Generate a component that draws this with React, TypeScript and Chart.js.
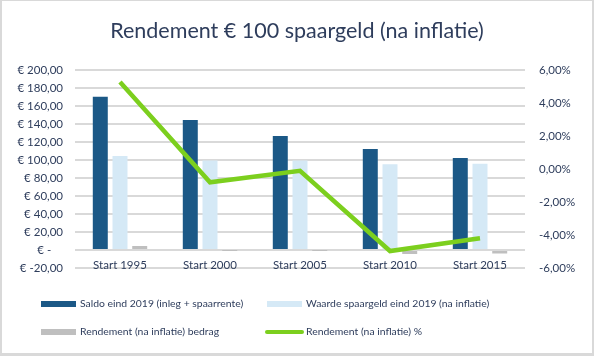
import React, { useEffect, useRef } from "react";
import { Chart, registerables } from "chart.js";

Chart.register(...registerables);

const categories = ["Start 1995", "Start 2000", "Start 2005", "Start 2010", "Start 2015"];
const saldo = [170.6, 144.7, 126.9, 112.4, 102.4];
const waarde = [104.6, 99.6, 99.6, 95.5, 96.0];
const rendementBedrag = [4.6, -0.1, -0.1, -4.5, -4.0];
const rendementPct = [5.29, -0.8, -0.1, -4.97, -4.2];

const seriesNames = [
  "Saldo eind 2019 (inleg + spaarrente)",
  "Waarde spaargeld eind 2019 (na inflatie)",
  "Rendement (na inflatie) bedrag",
  "Rendement (na inflatie) %",
];
const titleText = "Rendement € 100 spaargeld (na inflatie)";

const FONT = "Lato";
const TEXT = "#2e3d5c";
const DARK = "#1b5886";
const LIGHT = "#d5e9f6";
const GRAY = "#bfbfbf";
const GREEN = "#7ccf1e";

const frameAndLegend = {
  id: "frameAndLegend",
  beforeDraw(chart: any) {
    const ctx = chart.ctx;
    ctx.save();
    ctx.fillStyle = "#ffffff";
    ctx.fillRect(0, 0, chart.width, chart.height);
    ctx.restore();
  },
  afterDraw(chart: any) {
    const ctx = chart.ctx;
    const W = chart.width;
    const H = chart.height;
    ctx.save();
    ctx.fillStyle = "#d9d9d9";
    ctx.fillRect(0, 0, 2, H);
    ctx.fillRect(0, 0, W, 1);
    ctx.fillRect(W - 2, 0, 2, H);
    ctx.fillRect(0, H - 3, W, 3);

    // category labels (drawn over the bottom gridline, as in the original)
    const xs = chart.scales.x;
    ctx.font = `11.5px ${FONT}`;
    ctx.textAlign = "center";
    ctx.textBaseline = "middle";
    ctx.fillStyle = TEXT;
    categories.forEach((c, i) => {
      ctx.fillText(c, xs.getPixelForValue(i), chart.chartArea.bottom - 2.5);
    });

    ctx.font = `10.4px ${FONT}`;
    ctx.textBaseline = "middle";
    ctx.textAlign = "left";
    const items = [
      { x: 41, y: 304, color: DARK, type: "box", text: seriesNames[0] },
      { x: 267, y: 304, color: LIGHT, type: "box", text: seriesNames[1] },
      { x: 41, y: 332, color: GRAY, type: "box", text: seriesNames[2] },
      { x: 267, y: 332, color: GREEN, type: "line", text: seriesNames[3] },
    ];
    for (const it of items) {
      if (it.type === "box") {
        ctx.fillStyle = it.color;
        ctx.fillRect(it.x, it.y - 3, 35, 6);
      } else {
        ctx.strokeStyle = it.color;
        ctx.lineWidth = 4;
        ctx.lineCap = "round";
        ctx.beginPath();
        ctx.moveTo(it.x, it.y);
        ctx.lineTo(it.x + 35, it.y);
        ctx.stroke();
      }
      ctx.fillStyle = TEXT;
      ctx.fillText(it.text, it.x + 39, it.y);
    }
    ctx.restore();
  },
};

export default function App() {
  const ref = useRef<HTMLCanvasElement | null>(null);

  useEffect(() => {
    document.body.style.margin = "0";
    if (!ref.current) return;
    Chart.defaults.font.family = FONT;
    const chart = new Chart(ref.current, {
      data: {
        labels: categories,
        datasets: [
          {
            type: "line",
            label: seriesNames[3],
            data: rendementPct,
            yAxisID: "y1",
            borderColor: GREEN,
            backgroundColor: GREEN,
            borderWidth: 4.5,
            pointRadius: 0,
            tension: 0,
            order: 0,
          },
          {
            type: "bar",
            label: seriesNames[0],
            data: saldo,
            yAxisID: "y",
            backgroundColor: DARK,
            categoryPercentage: 0.657,
            barPercentage: 0.76,
            order: 1,
          },
          {
            type: "bar",
            label: seriesNames[1],
            data: waarde,
            yAxisID: "y",
            backgroundColor: LIGHT,
            categoryPercentage: 0.657,
            barPercentage: 0.76,
            order: 1,
          },
          {
            type: "bar",
            label: seriesNames[2],
            data: rendementBedrag,
            yAxisID: "y",
            backgroundColor: GRAY,
            categoryPercentage: 0.657,
            barPercentage: 0.76,
            order: 1,
          },
        ],
      } as any,
      options: {
        responsive: false,
        animation: false,
        devicePixelRatio: 1,
        layout: { padding: 0 },
        plugins: {
          legend: { display: false },
          tooltip: { enabled: false },
          title: {
            display: true,
            text: titleText,
            color: TEXT,
            font: { family: FONT, size: 21.5, weight: "normal" },
            padding: { top: 18, bottom: 26.5 },
          },
        },
        scales: {
          x: {
            grid: { display: false, drawTicks: false },
            border: { display: false },
            ticks: { display: false },
            afterFit: (s: any) => {
              s.height = 88;
            },
          },
          y: {
            position: "left",
            min: -20,
            max: 200,
            ticks: {
              stepSize: 20,
              color: TEXT,
              font: { size: 11.5 },
              padding: 12,
              callback: (v: any) =>
                Number(v) === 0 ? "€ -    " : "€ " + Number(v).toFixed(2).replace(".", ","),
            },
            grid: { color: "#d9d9d9", lineWidth: 2, drawTicks: false },
            border: { display: false },
            afterFit: (s: any) => {
              s.width = 75;
            },
          },
          y1: {
            position: "right",
            min: -6,
            max: 6,
            ticks: {
              stepSize: 2,
              color: TEXT,
              font: { size: 11.5 },
              padding: 14,
              callback: (v: any) => Number(v).toFixed(2).replace(".", ",") + "%",
            },
            grid: { display: false, drawTicks: false },
            border: { display: false },
            afterFit: (s: any) => {
              s.width = 69;
            },
          },
        },
      } as any,
      plugins: [frameAndLegend],
    });
    return () => chart.destroy();
  }, []);

  return (
    <div style={{ width: 594, height: 356 }}>
      <canvas ref={ref} width={594} height={356} style={{ display: "block" }} />
    </div>
  );
}
